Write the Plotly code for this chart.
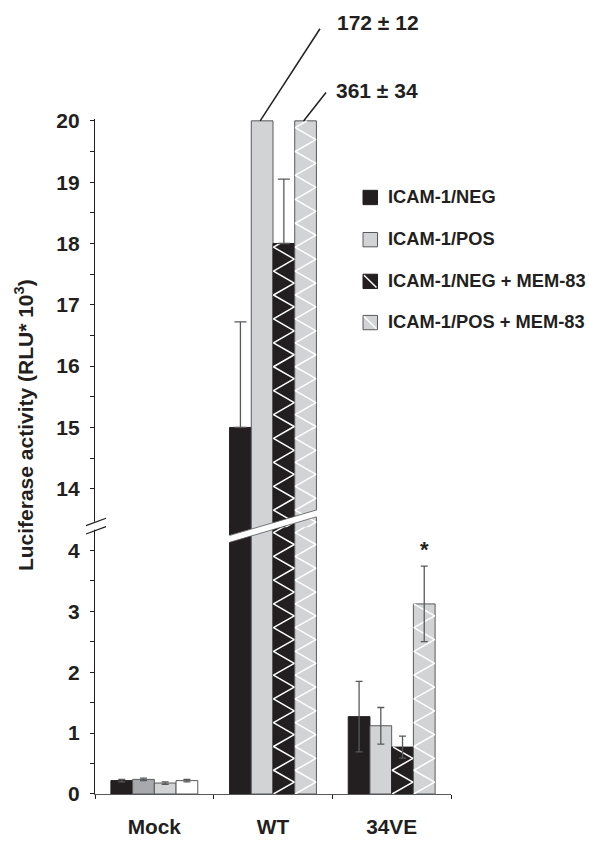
import numpy as np
import plotly.graph_objects as go

# ---------------- data ----------------
categories = ["Mock", "WT", "34VE"]
series_names = ["ICAM-1/NEG", "ICAM-1/POS", "ICAM-1/NEG + MEM-83", "ICAM-1/POS + MEM-83"]
neg_vals = [0.22, 15.0, 1.27]
neg_errs = [0.02, 1.72, 0.58]
pos_vals = [0.24, 172.0, 1.12]
pos_errs = [0.02, 12.0, 0.30]
negmem_vals = [0.18, 18.0, 0.77]
negmem_errs = [0.02, 1.05, 0.18]
posmem_vals = [0.22, 361.0, 3.12]
posmem_errs = [0.02, 34.0, 0.62]
lower_tick_vals = [0, 1, 2, 3, 4]
upper_tick_vals = [14, 15, 16, 17, 18, 19, 20]
axis_cap = 20          # values above this are drawn truncated and labelled
star_category = "34VE"

all_vals = [neg_vals, pos_vals, negmem_vals, posmem_vals]
all_errs = [neg_errs, pos_errs, negmem_errs, posmem_errs]

# ---------------- styles ----------------
BLACK = "#231f20"
LGRAY = "#d1d3d4"
MGRAY = "#a7a9ac"
WHITE = "#ffffff"
EDGE = "#58595b"
FONT = "Liberation Sans, Arial, sans-serif"

fills = [[BLACK, BLACK, BLACK], [MGRAY, LGRAY, LGRAY],
         [LGRAY, BLACK, BLACK], [WHITE, LGRAY, LGRAY]]
edges = [[BLACK, BLACK, BLACK], [EDGE, EDGE, EDGE],
         [EDGE, BLACK, BLACK], [EDGE, EDGE, EDGE]]
zig = [[False] * 3, [False] * 3, [False, True, True], [False, True, True]]
legend_fill = [BLACK, LGRAY, BLACK, LGRAY]
legend_edge = [BLACK, EDGE, BLACK, EDGE]
legend_diag = [False, False, True, True]
cap_width = {"Mock": 3.5, "WT": 6, "34VE": 3.5}
lower_err_shown = {"Mock": True, "WT": False, "34VE": True}

W = 0.183          # bar width (category units)
PERIOD = 0.39      # zig-zag period (value units)

# pixel geometry
W_PX, H_PX = 589, 850
PX_L, PX_R, PX_T, PX_B = 95, 451, 119, 807
SPLIT = 534
OVL = 1            # half overlap of the two panels (px) to avoid a seam
plot_w = PX_R - PX_L
plot_h = PX_B - PX_T
low_top = SPLIT - OVL
up_bot = SPLIT + OVL
low_dom = [0, (PX_B - low_top) / plot_h]
up_dom = [(PX_B - up_bot) / plot_h, 1]
low_range = [0, (PX_B - low_top) / 62.1]
up_top = axis_cap + 0.03
up_range = [up_top - (up_bot - PX_T) / 62.5, up_top]
x_range = [-0.5, len(categories) - 0.5]


def px(x):
    return (x - PX_L) / plot_w


def py(y):
    return (PX_B - y) / plot_h


def xdata_to_paper(x):
    return (x - x_range[0]) / (x_range[1] - x_range[0])


def xdata_to_px(x):
    return PX_L + xdata_to_paper(x) * plot_w


def zigzag(xc, top):
    left, right = xc - W / 2 + 0.004, xc + W / 2 - 0.004
    half = PERIOD / 2
    xs, ys = [], []
    k = 0
    while k * half < top:
        xs.append(left if k % 2 == 0 else right)
        ys.append(k * half)
        k += 1
    nx = left if k % 2 == 0 else right
    frac = (top - ys[-1]) / half
    xs.append(xs[-1] + (nx - xs[-1]) * frac)
    ys.append(top)
    return xs, ys


fig = go.Figure()
xi = np.arange(len(categories))

for yax in ["y", "y2"]:
    for j in range(4):
        disp = np.minimum(all_vals[j], axis_cap)
        fig.add_trace(go.Bar(
            x=xi, y=disp, width=W, offset=(j - 2) * W,
            marker=dict(color=fills[j], line=dict(color=edges[j], width=1)),
            name=series_names[j], showlegend=False, yaxis=yax, xaxis="x",
            hoverinfo="skip"))
    for j in range(4):
        disp = np.minimum(all_vals[j], axis_cap)
        for i in range(len(categories)):
            if zig[j][i]:
                xs, ys = zigzag(i + (j - 1.5) * W, disp[i])
                fig.add_trace(go.Scatter(
                    x=xs, y=ys, mode="lines", line=dict(color="white", width=1.5),
                    showlegend=False, hoverinfo="skip", yaxis=yax, xaxis="x"))
    for i, c in enumerate(categories):
        errs = [all_errs[j][i] for j in range(4)]
        fig.add_trace(go.Scatter(
            x=[i + (j - 1.5) * W for j in range(4)],
            y=[all_vals[j][i] for j in range(4)],
            mode="markers", marker=dict(size=1, color="rgba(0,0,0,0)"),
            error_y=dict(type="data", array=errs, symmetric=False,
                         arrayminus=errs if lower_err_shown[c] else [0] * 4,
                         color=EDGE, thickness=1.3, width=cap_width[c]),
            showlegend=False, hoverinfo="skip", yaxis=yax, xaxis="x"))

shapes = []
# slanted white break band across the WT bars
wt = categories.index("WT")
xl_px = xdata_to_px(wt - 2 * W)
xr_px = xdata_to_px(wt + 2 * W)
xm_px = (xl_px + xr_px) / 2
slope = -0.30
half_t = 3.5
yl_c = SPLIT + slope * (xl_px - xm_px)
yr_c = SPLIT + slope * (xr_px - xm_px)
path = (f"M{px(xl_px - 1)},{py(yl_c - half_t)} L{px(xr_px + 1)},{py(yr_c - half_t)} "
        f"L{px(xr_px + 1)},{py(yr_c + half_t)} L{px(xl_px - 1)},{py(yl_c + half_t)} Z")
shapes.append(dict(type="path", path=path, xref="paper", yref="paper",
                   fillcolor="white", line=dict(width=0), layer="above"))
for s in (-half_t, half_t):
    shapes.append(dict(type="line", xref="paper", yref="paper",
                       x0=px(xl_px), y0=py(yl_c + s), x1=px(xr_px), y1=py(yr_c + s),
                       line=dict(color=EDGE, width=0.8), layer="above"))

# axis break marks
shapes.append(dict(type="rect", xref="paper", yref="paper",
                   x0=px(92), x1=px(98), y0=py(537.5), y1=py(529.5),
                   fillcolor="white", line=dict(width=0), layer="above"))
for (y0, y1) in [(533.5, 526), (542, 534.5)]:
    shapes.append(dict(type="line", xref="paper", yref="paper",
                       x0=px(86), y0=py(y0), x1=px(106), y1=py(y1),
                       line=dict(color=BLACK, width=1.2), layer="above"))

# leader lines + labels for truncated bars
annots = []
label_pos = [(335, 21), (334, 90)]
line_end = [(320, 27), (326, 92)]
k = 0
for j in range(4):
    for i in range(len(categories)):
        if all_vals[j][i] > axis_cap:
            bx = xdata_to_px(i + (j - 1.5) * W)
            ex, ey = line_end[k]
            shapes.append(dict(type="line", xref="paper", yref="paper",
                               x0=px(bx - 2), y0=py(121), x1=px(ex), y1=py(ey),
                               line=dict(color=BLACK, width=1.5), layer="above"))
            lx, ly = label_pos[k]
            annots.append(dict(text=f"{all_vals[j][i]:.0f} ± {all_errs[j][i]:.0f}",
                               xref="paper", yref="paper", x=px(lx), y=py(ly),
                               xanchor="left", yanchor="middle", showarrow=False,
                               font=dict(family=FONT, size=21, color=BLACK, weight="bold")))
            k += 1

# significance star
si = categories.index(star_category)
annots.append(dict(text="*", xref="x", yref="y", x=si + 1.5 * W,
                   y=posmem_vals[si] + posmem_errs[si], yanchor="middle", yshift=17,
                   showarrow=False,
                   font=dict(family=FONT, size=22, color=BLACK, weight="bold")))

# manual legend
leg_y = [199, 242, 284.5, 326.5]
for j in range(4):
    yc = leg_y[j]
    shapes.append(dict(type="rect", xref="paper", yref="paper",
                       x0=px(363), x1=px(377.5), y0=py(yc + 7.3), y1=py(yc - 7.3),
                       fillcolor=legend_fill[j], line=dict(color=legend_edge[j], width=1),
                       layer="above"))
    if legend_diag[j]:
        shapes.append(dict(type="line", xref="paper", yref="paper",
                           x0=px(364), y0=py(yc - 6.3), x1=px(376.5), y1=py(yc + 6.3),
                           line=dict(color="white", width=1.5), layer="above"))
    annots.append(dict(text=series_names[j], xref="paper", yref="paper",
                       x=px(386), y=py(yc - 1), xanchor="left", yanchor="middle",
                       showarrow=False,
                       font=dict(family=FONT, size=18.3, color=BLACK, weight="bold")))

# y-axis title
annots.append(dict(text="Luciferase activity (RLU* 10<sup>3</sup>)", textangle=-90,
                   xref="paper", yref="paper", x=px(24), y=py(431),
                   xanchor="center", yanchor="middle", showarrow=False,
                   font=dict(family=FONT, size=21, color=BLACK, weight="bold")))

yaxis_common = dict(showgrid=False, zeroline=False, showline=True, linecolor=BLACK,
                    linewidth=1.3, ticks="outside", ticklen=4, tickwidth=1.2,
                    tickcolor=BLACK, anchor="x", ticklabelstandoff=6,
                    tickfont=dict(family=FONT, size=21, color=BLACK, weight="bold"))

fig.update_layout(
    width=W_PX, height=H_PX,
    margin=dict(l=PX_L, r=W_PX - PX_R, t=PX_T, b=H_PX - PX_B, pad=0),
    paper_bgcolor="white", plot_bgcolor="rgba(0,0,0,0)",
    showlegend=False,
    xaxis=dict(range=x_range, tickmode="array", tickvals=list(xi), ticktext=categories,
               ticks="", showgrid=False, zeroline=False, showline=True,
               linecolor=EDGE, linewidth=1.3, anchor="y", ticklabelstandoff=14,
               tickfont=dict(family=FONT, size=20.8, color=BLACK, weight="bold"),
               minor=dict(tickmode="array",
                          tickvals=[x_range[0] + n for n in range(len(categories) + 1)],
                          ticks="outside", ticklen=4, tickcolor=BLACK, tickwidth=1.2)),
    yaxis=dict(domain=low_dom, range=low_range, tickmode="array",
               tickvals=lower_tick_vals,
               minor=dict(tickmode="array", tickvals=[v + 0.5 for v in lower_tick_vals[:-1]],
                          ticks="outside", ticklen=4, tickcolor=BLACK, tickwidth=1.2),
               **yaxis_common),
    yaxis2=dict(domain=up_dom, range=up_range, tickmode="array",
                tickvals=upper_tick_vals,
                minor=dict(tickmode="array", tickvals=[v + 0.5 for v in upper_tick_vals[:-1]],
                           ticks="outside", ticklen=4, tickcolor=BLACK, tickwidth=1.2),
                **yaxis_common),
    shapes=shapes, annotations=annots,
)

fig.write_html("out.html", config={"displayModeBar": False},
               post_script="document.body.style.margin='0px';"
                           "document.body.style.overflow='hidden';")
